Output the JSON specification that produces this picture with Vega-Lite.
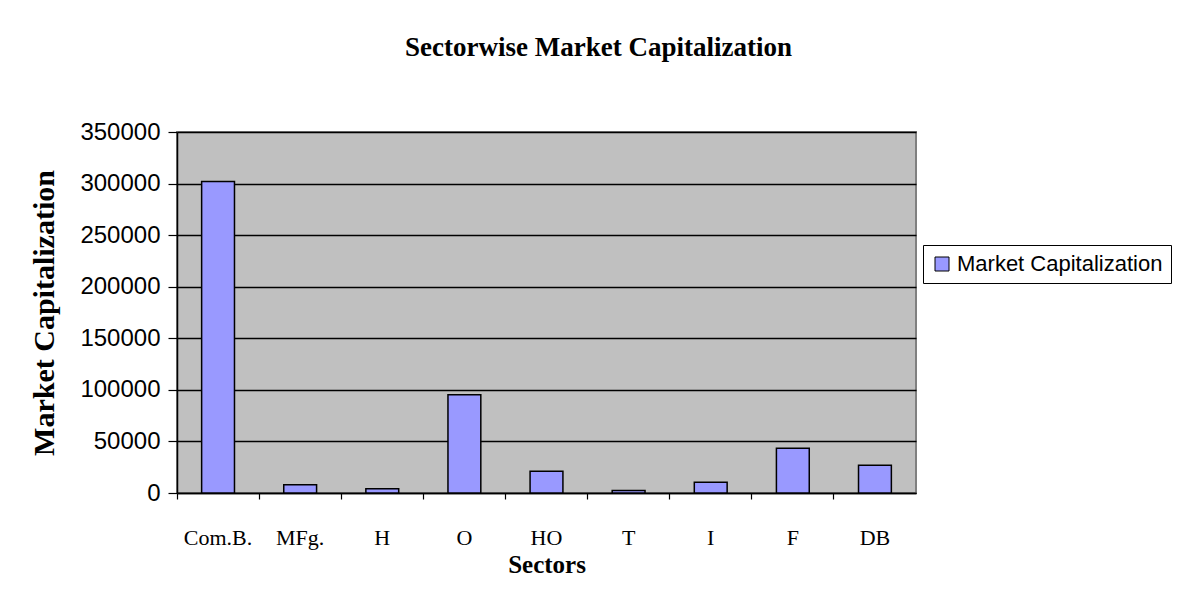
{
  "$schema": "https://vega.github.io/schema/vega-lite/v6.json",
  "autosize": "none",
  "width": 739,
  "height": 361,
  "padding": {"left": 177, "top": 132, "right": 276, "bottom": 97},
  "background": "white",
  "title": {
    "text": "Sectorwise Market Capitalization",
    "font": "Liberation Serif",
    "fontSize": 27,
    "fontWeight": "bold",
    "color": "black",
    "anchor": "middle",
    "frame": "group",
    "dx": 52,
    "baseline": "bottom",
    "offset": 31
  },
  "data": {
    "values": [
      {"sector": "Com.B.", "value": 302000},
      {"sector": "MFg.", "value": 8000},
      {"sector": "H", "value": 4200},
      {"sector": "O", "value": 95300},
      {"sector": "HO", "value": 21000},
      {"sector": "T", "value": 2500},
      {"sector": "I", "value": 10400},
      {"sector": "F", "value": 43300},
      {"sector": "DB", "value": 26800}
    ]
  },
  "mark": {"type": "bar", "width": {"band": 0.4}, "stroke": "black", "strokeWidth": 1.5},
  "encoding": {
    "x": {
      "field": "sector",
      "type": "nominal",
      "sort": null,
      "scale": {"paddingInner": 0, "paddingOuter": 0},
      "axis": {
        "title": "Sectors",
        "titleFont": "Liberation Serif",
        "titleFontSize": 25,
        "titleFontWeight": "bold",
        "titleColor": "black",
        "titlePadding": 4,
        "labelFont": "Liberation Serif",
        "labelFontSize": 22,
        "labelColor": "black",
        "labelAngle": 0,
        "labelPadding": 28,
        "bandPosition": 0,
        "domainColor": "black",
        "domainWidth": 1.5,
        "tickColor": "black",
        "tickSize": 6,
        "tickWidth": 1.2,
        "grid": false
      }
    },
    "y": {
      "field": "value",
      "type": "quantitative",
      "scale": {"domain": [0, 350000], "nice": false},
      "axis": {
        "title": "Market Capitalization",
        "titleFont": "Liberation Serif",
        "titleFontSize": 30,
        "titleFontWeight": "bold",
        "titleColor": "black",
        "titlePadding": 20,
        "values": [0, 50000, 100000, 150000, 200000, 250000, 300000, 350000],
        "format": "d",
        "labelFont": "Liberation Sans",
        "labelFontSize": 24,
        "labelColor": "black",
        "labelPadding": 8,
        "domainColor": "black",
        "domainWidth": 1.5,
        "tickColor": "black",
        "tickSize": 9,
        "tickWidth": 1.2,
        "grid": true,
        "gridColor": "black",
        "gridWidth": 1.5,
        "gridOpacity": 1
      }
    },
    "color": {
      "datum": "Market Capitalization",
      "scale": {"range": ["#9999FF"]},
      "legend": {
        "title": null,
        "orient": "none",
        "legendX": 746,
        "legendY": 113,
        "fillColor": "white",
        "strokeColor": "black",
        "padding": 8,
        "symbolType": "square",
        "symbolSize": 196,
        "symbolStrokeColor": "black",
        "symbolStrokeWidth": 1,
        "labelFont": "Liberation Sans",
        "labelFontSize": 22,
        "labelColor": "black",
        "labelLimit": 400
      }
    }
  },
  "config": {
    "view": {"fill": "#C0C0C0", "stroke": "#808080", "strokeWidth": 2}
  }
}
